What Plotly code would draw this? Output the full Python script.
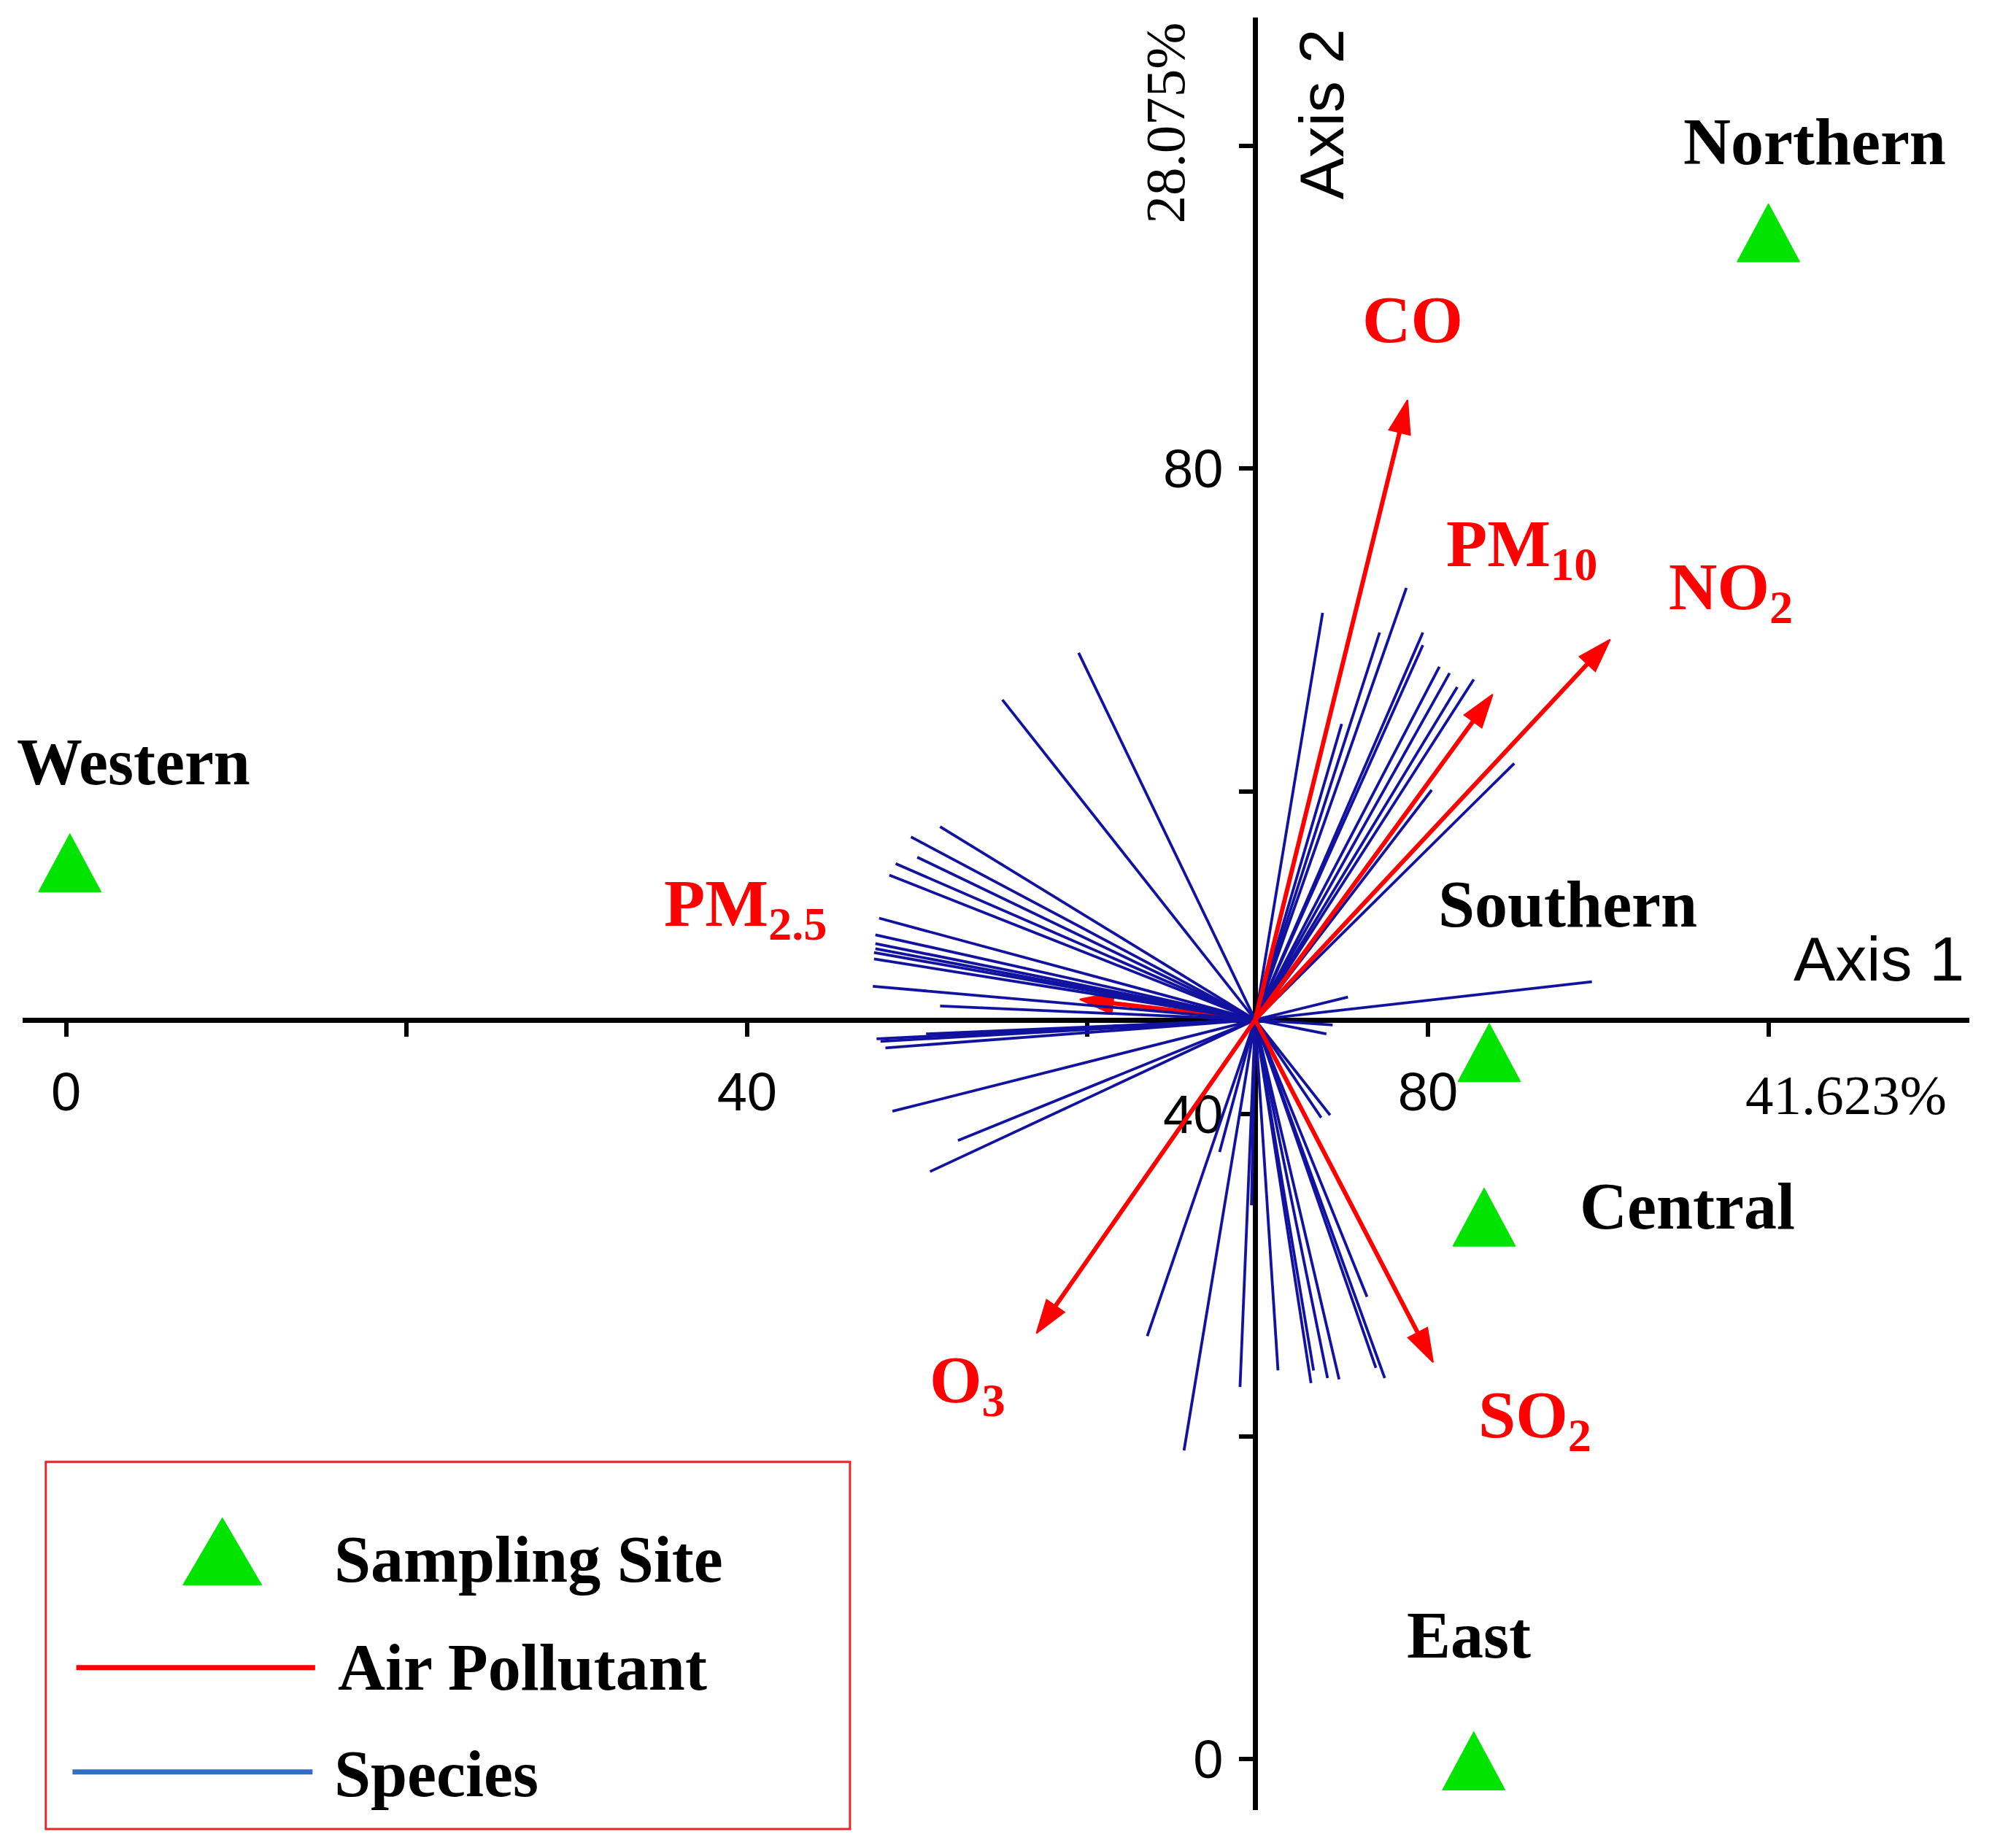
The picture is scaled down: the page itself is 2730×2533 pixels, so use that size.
import plotly.graph_objects as go

W, H = 2730, 2533

# ---------------- data ----------------
ORIGIN_X, ORIGIN_Y = 69.85, 45.83          # where the two ordination axes cross
X_RANGE = [-2.54, 111.79]
Y_RANGE = [-3.15, 107.95]
X_TICKS = [0, 40, 80]
X_TICKTEXT = ["0", "40", "80"]
X_MINOR = [20, 60, 100]
Y_TICKS = [0, 40, 80]
Y_TICKTEXT = ["0", "40", "80"]
Y_MINOR = [20, 60, 100]

SITES = ["Western", "Northern", "Southern", "Central", "East"]
SITE_X = [0.22, 100.0, 83.6, 83.3, 82.69]
SITE_Y = [54.96, 94.02, 43.2, 33.0, -0.71]

POLLUTANTS = ["CO", "PM<sub>10</sub>", "NO<sub>2</sub>", "PM<sub>2.5</sub>", "O<sub>3</sub>", "SO<sub>2</sub>"]
POLL_X = [78.8, 83.8, 90.7, 59.55, 57.0, 80.3]
POLL_Y = [84.25, 66.0, 69.4, 47.1, 26.4, 24.6]

SPECIES_X = [59.48, 55.0, 51.34, 49.63, 50.0, 48.73, 48.36, 47.76, 47.54, 47.54,
             47.54, 47.46, 47.46, 47.39, 51.34, 47.61, 47.84, 48.13, 50.52, 61.49,
             48.54, 52.39, 50.75, 63.51, 65.67, 67.76, 68.96, 69.63, 71.19, 73.13,
             73.28, 74.10, 74.78, 76.42, 76.94, 77.46, 74.25, 73.73, 74.03, 74.40,
             89.63, 75.30, 73.81, 78.73, 77.16, 79.70, 79.70, 74.93, 81.27, 81.72,
             82.69, 85.07, 80.22, 80.67]
SPECIES_Y = [68.58, 65.67, 57.80, 57.17, 55.91, 55.51, 54.80, 52.13, 51.10, 50.55,
             50.24, 50.0, 49.61, 47.91, 46.69, 44.65, 44.49, 44.09, 44.96, 45.43,
             40.16, 38.35, 36.42, 26.22, 19.13, 37.64, 23.07, 34.33, 24.09, 23.31,
             24.09, 23.62, 23.54, 28.66, 24.25, 23.62, 39.92, 39.76, 44.96, 45.51,
             48.19, 47.24, 71.06, 72.60, 69.84, 69.84, 69.06, 64.17, 67.32, 66.46,
             66.93, 61.73, 60.08, 67.72]

LEGEND_LABELS = ["Sampling Site", "Air Pollutant", "Species"]

# ---------------- styles / placement ----------------
SERIF = "Liberation Serif"
SANS = "Liberation Sans"
GREEN = "#00e400"
RED = "#ff0000"
NAVY = "#1212a0"

XDOM = [0.01148, 0.98852]
YDOM = [0.02062, 0.99038]
PX_PER_X = W * (XDOM[1] - XDOM[0]) / (X_RANGE[1] - X_RANGE[0])
PX_PER_Y = H * (YDOM[1] - YDOM[0]) / (Y_RANGE[1] - Y_RANGE[0])
TRI_W_PX, TRI_H_PX = 86, 80          # site marker size in pixels

SITE_DX = [87, 63, 108, 279, -7]
SITE_DY = [151, 138, 216, 28, 185]
POLL_DX = [7, 40, 165, -458, -94, 139]
POLL_DY = [110, 200, 66, 125, -70, -78]

fig = go.Figure()


def pollutant_trace(i):
    return go.Scatter(
        x=[ORIGIN_X, POLL_X[i]], y=[ORIGIN_Y, POLL_Y[i]],
        mode="lines+markers",
        line=dict(color=RED, width=6),
        marker=dict(symbol=["circle", "arrow"], size=[0, 48], color=RED, opacity=1,
                    angleref="previous", line=dict(width=2, color=RED)),
        hoverinfo="skip", showlegend=False, cliponaxis=False,
    )


# PM2.5 vector sits underneath the species fan
fig.add_trace(pollutant_trace(3))

# species vectors
sx, sy = [], []
for ex, ey in zip(SPECIES_X, SPECIES_Y):
    sx += [ORIGIN_X, ex, None]
    sy += [ORIGIN_Y, ey, None]
fig.add_trace(go.Scatter(x=sx, y=sy, mode="lines",
                         line=dict(color=NAVY, width=3.8),
                         hoverinfo="skip", showlegend=False))

for i in range(len(POLLUTANTS)):
    if i != 3:
        fig.add_trace(pollutant_trace(i))

# sampling sites: filled triangles centred (centroid) on each site score
hw = TRI_W_PX / 2 / PX_PER_X
th = TRI_H_PX / PX_PER_Y
tx, ty = [], []
for x, y in zip(SITE_X, SITE_Y):
    tx += [x, x - hw, x + hw, x, None]
    ty += [y + th * 2 / 3, y - th / 3, y - th / 3, y + th * 2 / 3, None]
fig.add_trace(go.Scatter(x=tx, y=ty, mode="lines", fill="toself", fillcolor=GREEN,
                         line=dict(color=GREEN, width=1), hoverinfo="skip",
                         showlegend=False))

annotations = []
for name, x, y, dx, dy in zip(SITES, SITE_X, SITE_Y, SITE_DX, SITE_DY):
    annotations.append(dict(x=x, y=y, xref="x", yref="y", text=f"<b>{name}</b>",
                            showarrow=False, xshift=dx, yshift=dy,
                            xanchor="center", yanchor="middle",
                            font=dict(family=SERIF, size=90, color="black")))
for name, x, y, dx, dy in zip(POLLUTANTS, POLL_X, POLL_Y, POLL_DX, POLL_DY):
    annotations.append(dict(x=x, y=y, xref="x", yref="y", text=f"<b>{name}</b>",
                            showarrow=False, xshift=dx, yshift=dy,
                            xanchor="center", yanchor="middle",
                            font=dict(family=SERIF, size=92, color=RED)))

# axis titles and explained variance
annotations += [
    dict(x=0.9432, y=0.4811, xref="paper", yref="paper", text="Axis 1", showarrow=False,
         xanchor="center", yanchor="middle", font=dict(family=SANS, size=86, color="black")),
    dict(x=0.9267, y=0.4076, xref="paper", yref="paper", text="41.623%", showarrow=False,
         xanchor="center", yanchor="middle", font=dict(family=SERIF, size=77, color="black")),
    dict(x=0.6633, y=0.9381, xref="paper", yref="paper", text="Axis 2", showarrow=False,
         xanchor="center", yanchor="middle", textangle=-90,
         font=dict(family=SANS, size=86, color="black")),
    dict(x=0.5848, y=0.9333, xref="paper", yref="paper", text="28.075%", showarrow=False,
         xanchor="center", yanchor="middle", textangle=-90,
         font=dict(family=SERIF, size=77, color="black")),
]

# legend (drawn by hand)
LEG_TEXT_X = [0.1671, 0.1690, 0.1671]
LEG_TEXT_Y = [0.1560, 0.0976, 0.0399]
for t, lx, ly in zip(LEGEND_LABELS, LEG_TEXT_X, LEG_TEXT_Y):
    annotations.append(dict(x=lx, y=ly, xref="paper", yref="paper", text=f"<b>{t}</b>",
                            showarrow=False, xanchor="left", yanchor="middle",
                            font=dict(family=SERIF, size=90, color="black")))

shapes = [
    dict(type="rect", xref="paper", yref="paper", x0=0.0230, x1=0.4267, y0=0.0103, y1=0.2089,
         line=dict(color="#e8262a", width=3), fillcolor="rgba(0,0,0,0)"),
    dict(type="path", xref="paper", yref="paper",
         path="M 0.1116,0.1787 L 0.0918,0.1423 L 0.1314,0.1423 Z",
         fillcolor=GREEN, line=dict(color=GREEN, width=1)),
    dict(type="line", xref="paper", yref="paper", x0=0.0383, x1=0.1582, y0=0.0976, y1=0.0976,
         line=dict(color=RED, width=7)),
    dict(type="line", xref="paper", yref="paper", x0=0.0364, x1=0.1569, y0=0.0412, y1=0.0412,
         line=dict(color="#2f70c4", width=7)),
]

x_pos = (ORIGIN_Y - Y_RANGE[0]) / (Y_RANGE[1] - Y_RANGE[0])
y_pos = (ORIGIN_X - X_RANGE[0]) / (X_RANGE[1] - X_RANGE[0])

axis_common = dict(showgrid=False, zeroline=False, showline=True, linecolor="black",
                   linewidth=7, ticks="outside", ticklen=19, tickwidth=6, tickcolor="black",
                   tickfont=dict(family=SANS, size=74, color="black"), layer="below traces")

fig.update_layout(
    width=W, height=H,
    margin=dict(l=0, r=0, t=0, b=0),
    paper_bgcolor="white", plot_bgcolor="white",
    showlegend=False,
    xaxis=dict(range=X_RANGE, domain=XDOM, anchor="free",
               position=YDOM[0] + x_pos * (YDOM[1] - YDOM[0]),
               tickvals=X_TICKS, ticktext=X_TICKTEXT, ticklabelstandoff=12,
               minor=dict(tickvals=X_MINOR, ticks="outside", ticklen=19, tickwidth=6,
                          tickcolor="black", showgrid=False),
               **axis_common),
    yaxis=dict(range=Y_RANGE, domain=YDOM, anchor="free",
               position=XDOM[0] + y_pos * (XDOM[1] - XDOM[0]),
               tickvals=Y_TICKS, ticktext=Y_TICKTEXT, ticklabelstandoff=7,
               minor=dict(tickvals=Y_MINOR, ticks="outside", ticklen=19, tickwidth=6,
                          tickcolor="black", showgrid=False),
               **axis_common),
    annotations=annotations,
    shapes=shapes,
)

fig.write_html("out.html", config={"displayModeBar": False},
               post_script="document.body.style.margin='0px';")
